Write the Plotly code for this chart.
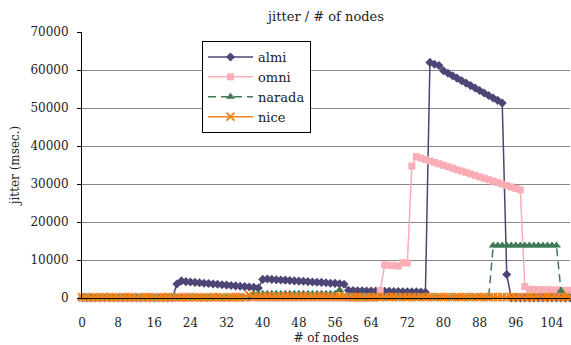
import plotly.graph_objects as go

nodes = list(range(0, 109))
x_tick_vals = [0, 8, 16, 24, 32, 40, 48, 56, 64, 72, 80, 88, 96, 104]

almi = ([0] * 21 +
        [3700, 4500, 4300, 4200, 4100, 4000, 3900, 3800, 3700, 3600, 3500, 3400, 3300, 3200, 3100, 3000, 2900, 2800, 2600] +
        [4900, 5000, 4900, 4800, 4750, 4700, 4600, 4500, 4450, 4400, 4300, 4200, 4150, 4100, 4000, 3900, 3850, 3750, 3600] +
        [2000, 1950, 1900, 1900, 1850, 1850, 1800, 1800, 1750, 1750, 1700, 1700, 1650, 1650, 1600, 1600, 1550, 1500] +
        [62000, 61500, 61200, 59800, 59150, 58500, 57850, 57200, 56550, 55900, 55250, 54600, 53950, 53300, 52650, 52000, 51300] +
        [6200] +
        [0] * 14)

omni = ([0] * 66 +
        [1900] +
        [8700, 8600, 8500, 8400] +
        [9300, 9200] +
        [34700] +
        [37200, 36820, 36440, 36060, 35680, 35300, 34920, 34540, 34160, 33780, 33400, 33020,
         32640, 32260, 31880, 31500, 31120, 30740, 30360, 29980, 29600, 29220, 28840, 28460] +
        [3000] +
        [2300, 2250, 2200, 2200, 2150, 2100, 2100, 2050, 2000, 2000])

narada = ([0] * 38 +
          [1100, 1100, 1150, 1100, 1100, 1150, 1100, 1100, 1100, 1150, 1100, 1100, 1100, 1150, 1100, 1100, 1100, 1150, 1100] +
          [2100] +
          [0] * 33 +
          [13800] * 15 +
          [1900] +
          [0, 0])

nice = ([200, 250, 150, 200, 200, 250, 200, 150, 200, 250, 200, 200, 150, 200, 250, 200, 200, 150, 200, 250,
         200, 200, 150, 200, 250, 200, 200, 150, 200, 250, 200, 200, 150, 200, 250, 200, 200] +
        [800] +
        [350, 400, 350, 400, 350, 400, 350, 400, 350, 400, 350, 400, 350, 400, 350, 400, 350, 400, 350, 400, 350] +
        [250, 200, 250, 200, 250, 200, 250, 200, 250, 200, 250, 200, 250, 200, 250, 200, 250, 200, 250, 200,
         250, 200, 250, 200, 250, 200, 250, 200, 250, 200, 250, 200, 250, 200, 250, 200, 250, 200, 250, 200,
         250, 200, 250, 200, 250, 200, 250, 200, 250, 200])

FONT = "DejaVu Serif"
C_ALMI = "#4B4676"
C_OMNI = "#F8AEB4"
C_NARADA = "#3D7A55"
C_NICE = "#F0831F"

fig = go.Figure()
fig.add_trace(go.Scatter(x=nodes, y=almi, name="almi", mode="lines+markers",
                         line=dict(color=C_ALMI, width=1.5),
                         marker=dict(symbol="diamond", size=7, color=C_ALMI),
                         cliponaxis=False))
fig.add_trace(go.Scatter(x=nodes, y=omni, name="omni", mode="lines+markers",
                         line=dict(color=C_OMNI, width=1.5),
                         marker=dict(symbol="square", size=7, color=C_OMNI),
                         cliponaxis=False))
fig.add_trace(go.Scatter(x=nodes, y=narada, name="narada", mode="lines+markers",
                         line=dict(color=C_NARADA, width=1.5, dash="8px,5px"),
                         marker=dict(symbol="triangle-up", size=8, color=C_NARADA),
                         cliponaxis=False))
fig.add_trace(go.Scatter(x=nodes, y=nice, name="nice", mode="lines+markers",
                         line=dict(color=C_NICE, width=1.5),
                         marker=dict(symbol="x-thin", size=8, color=C_NICE,
                                     line=dict(color=C_NICE, width=2)),
                         cliponaxis=False))

fig.update_layout(
    width=571, height=345,
    margin=dict(l=82, r=1, t=32, b=47, autoexpand=False),
    paper_bgcolor="white", plot_bgcolor="white",
    font=dict(family=FONT, size=12, color="#222222"),
    title=dict(text="jitter / # of nodes", font=dict(family=FONT, size=13, color="#222222"),
               x=326 / 571, xanchor="center", y=1 - 16 / 345, yanchor="middle", yref="container"),
    showlegend=True,
    legend=dict(x=(202 - 82) / 488, y=(298 - 41) / 266, xanchor="left", yanchor="top",
                bgcolor="white", bordercolor="black", borderwidth=1,
                font=dict(family=FONT, size=13, color="#222222"),
                itemwidth=45, entrywidth=60, tracegroupgap=0),
)
fig.update_xaxes(range=[0, 108], tickmode="array", tickvals=x_tick_vals,
                 ticktext=[str(v) for v in x_tick_vals], automargin=False,
                 showgrid=False, zeroline=False, showline=True, linecolor="black", linewidth=1,
                 ticks="", ticklabelstandoff=14,
                 title=dict(text="# of nodes", standoff=4, font=dict(family=FONT, size=12)))
fig.update_yaxes(range=[0, 70000], dtick=10000, tickformat="d", automargin=False,
                 showgrid=True, gridcolor="#888888", gridwidth=1, zeroline=False,
                 showline=True, linecolor="black", linewidth=1,
                 ticks="outside", ticklen=4, tickcolor="black", ticklabelstandoff=6,
                 title=dict(text="jitter (msec.)", standoff=8, font=dict(family=FONT, size=12)))

fig.write_html("out.html", config={"displayModeBar": False},
               post_script="document.body.style.margin='0';")
